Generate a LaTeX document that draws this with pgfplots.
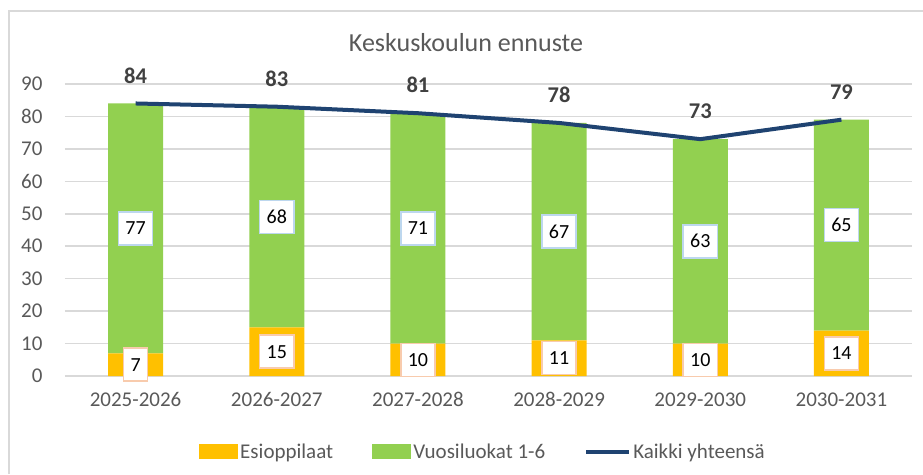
\documentclass[border=0pt]{standalone}
\usepackage{fontspec}
\setmainfont{Carlito}
\usepackage{pgfplots}
\pgfplotsset{compat=1.18}
\definecolor{esi}{HTML}{FFC000}
\definecolor{vuosi}{HTML}{92D050}
\definecolor{navy}{HTML}{1F4371}
\definecolor{txtgray}{HTML}{595959}
\definecolor{darkgraytwo}{HTML}{404040}
\definecolor{gridgray}{HTML}{D9D9D9}
\definecolor{peach}{HTML}{F8CBAD}
\definecolor{lblue}{HTML}{BDD7EE}
\begin{document}
\begin{tikzpicture}
\useasboundingbox (0,0) rectangle (923pt,474pt);
\draw[gridgray, line width=1.5pt] (9pt,0pt) -- (9pt,463pt) -- (923pt,463pt);
\begin{axis}[
  at={(65pt,98pt)}, anchor=south west,
  scale only axis, width=847pt, height=292pt,
  ybar stacked, bar width=55pt,
  xmin=-0.5, xmax=5.5, ymin=0, ymax=90,
  xtick={0,1,2,3,4,5},
  xticklabels={2025-2026,2026-2027,2027-2028,2028-2029,2029-2030,2030-2031},
  ytick={0,10,...,90},
  ymajorgrids, grid style={gridgray, line width=1.5pt},
  axis line style={draw=none},
  major tick length=0pt,
  tick label style={font=\fontsize{21}{25}\selectfont, text=txtgray},
  /pgf/number format/assume math mode=true,
  yticklabel style={xshift=-19pt},
  xticklabel style={yshift=-13pt},
  legend columns=3,
  legend style={at={(0.4935,-0.26)}, anchor=center, draw=none, fill=none,
    font=\fontsize{21}{25}\selectfont, text=txtgray,
    /tikz/every even column/.append style={column sep=37pt}},
  legend cell align=left,
]
\addplot[fill=esi, draw=none, legend image code/.code={\fill[esi] (0pt,-7.5pt) rectangle (39pt,7.5pt);}]
  coordinates {(0,7)(1,15)(2,10)(3,11)(4,10)(5,14)};
\addlegendentry{Esioppilaat}
\addplot[fill=vuosi, draw=none, legend image code/.code={\fill[vuosi] (0pt,-7.5pt) rectangle (39pt,7.5pt);}]
  coordinates {(0,77)(1,68)(2,71)(3,67)(4,63)(5,65)};
\addlegendentry{Vuosiluokat 1-6}
\addlegendimage{legend image code/.code={\draw[navy, line width=4pt] (0pt,0pt) -- (43pt,0pt);}}
\addlegendentry{Kaikki yhteensä}
\end{axis}
\begin{axis}[
  at={(65pt,98pt)}, anchor=south west,
  scale only axis, width=847pt, height=292pt,
  xmin=-0.5, xmax=5.5, ymin=0, ymax=90,
  hide axis, clip=false,
  /pgf/number format/assume math mode=true,
]
\addplot[navy, line width=4pt, line join=round, mark=none,
  nodes near coords,
  nodes near coords style={font=\bfseries\fontsize{22.5}{26}\selectfont, text=darkgraytwo, anchor=center, yshift=28pt}]
  coordinates {(0,84)(1,83)(2,81)(3,78)(4,73)(5,79)};
\addplot[draw=none, mark=none, point meta=explicit symbolic, nodes near coords,
  nodes near coords style={anchor=center, fill=white, draw=lblue, line width=1.5pt,
    font=\fontsize{20}{24}\selectfont, text=black, inner xsep=7pt, inner ysep=10pt,
    text height=13pt, text depth=0pt}]
  coordinates {(0,45.5)[77] (1,49)[68] (2,45.5)[71] (3,44.5)[67] (4,41.5)[63] (5,46.5)[65]};
\addplot[draw=none, mark=none, point meta=explicit symbolic, nodes near coords,
  nodes near coords style={anchor=center, fill=white, draw=peach, line width=1.5pt,
    font=\fontsize{20}{24}\selectfont, text=black, inner xsep=7pt, inner ysep=10pt,
    text height=13pt, text depth=0pt}]
  coordinates {(0,3.5)[7] (1,7.5)[15] (2,5)[10] (3,5.5)[11] (4,5)[10] (5,7)[14]};
\end{axis}
\node[font=\fontsize{26}{30}\selectfont, text=txtgray] at (466pt,431pt) {Keskuskoulun ennuste};
\end{tikzpicture}
\end{document}
